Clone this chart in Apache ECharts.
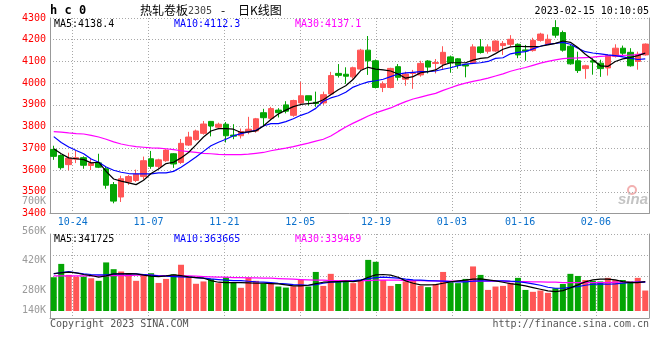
<!DOCTYPE html>
<html><head><meta charset="utf-8">
<script src="https://cdn.jsdelivr.net/npm/echarts@6/dist/echarts.min.js"></script>
<style>html,body{margin:0;padding:0;background:#fff}#c{width:660px;height:360px}</style>
</head><body><div id="c"></div>
<script>
const dates = ['10-19','10-20','10-21','10-24','10-25','10-26','10-27','10-28','10-31','11-01','11-02','11-03','11-04','11-07','11-08','11-09','11-10','11-11','11-14','11-15','11-16','11-17','11-18','11-21','11-22','11-23','11-24','11-25','11-28','11-29','11-30','12-01','12-02','12-05','12-06','12-07','12-08','12-09','12-12','12-13','12-14','12-15','12-16','12-19','12-20','12-21','12-22','12-23','12-26','12-27','12-28','12-29','12-30','01-03','01-04','01-05','01-06','01-09','01-10','01-11','01-12','01-13','01-16','01-17','01-18','01-19','01-20','01-30','01-31','02-01','02-02','02-03','02-06','02-07','02-08','02-09','02-10','02-13','02-14','02-15'];
const tickDates = ['10-24','11-07','11-21','12-05','12-19','01-03','01-16','02-06'];

const open = [3695,3667,3625,3650,3657,3621,3633,3606,3533,3476, 3545,3552,3570,3652,3617,3643,3675,3635,3715,3740, 3769,3824,3797,3811,3761,3758,3776,3780,3864,3838, 3876,3900,3852,3909,3942,3912,3909,3950,4045,4041, 4029,4065,4152,4103,3980,3980,4076,4018,4045,4038, 4102,4091,4089,4121,4112,4085,4094,4167,4147,4148, 4173,4179,4179,4153,4150,4197,4179,4256,4233,4170, 4103,4067,4103,4092,4070,4123,4161,4142,4100,4130];
const close = [3663,3611,3655,3657,3622,3632,3613,3530,3457,3560, 3570,3581,3643,3617,3647,3692,3628,3723,3752,3780, 3812,3803,3811,3758,3756,3777,3788,3836,3841,3883, 3864,3871,3920,3942,3921,3906,3947,4035,4036,4032, 4071,4152,4103,3980,3997,4068,4027,4042,4048,4091, 4074,4095,4142,4094,4082,4079,4167,4141,4167,4194, 4183,4202,4130,4148,4197,4226,4202,4221,4152,4089, 4058,4080,4097,4067,4127,4161,4138,4080,4133,4180];
const low = [3647,3602,3599,3632,3606,3600,3609,3514,3447,3453, 3532,3545,3556,3606,3606,3638,3610,3628,3711,3735, 3763,3755,3788,3727,3742,3745,3765,3772,3803,3833, 3842,3861,3845,3900,3897,3891,3900,3945,4026,3997, 4020,4061,4038,3976,3959,3976,4012,3988,3974,4030, 4045,4045,4061,4048,4067,4027,4088,4136,4136,4144, 4130,4168,4115,4103,4145,4191,4176,4209,4145,4085, 4047,4020,4039,4029,4035,4118,4123,4076,4062,4127];
const high = [3712,3672,3680,3690,3663,3655,3675,3617,3545,3574, 3577,3602,3662,3688,3652,3696,3678,3743,3776,3786, 3826,3826,3818,3821,3811,3791,3845,3840,3882,3891, 3885,3917,3924,4006,3942,3961,3961,4052,4088,4073, 4076,4158,4217,4109,4008,4071,4088,4053,4061,4103, 4106,4111,4170,4127,4115,4085,4179,4203,4179,4197, 4194,4221,4183,4176,4209,4232,4224,4290,4242,4176, 4145,4085,4115,4108,4133,4179,4173,4161,4145,4183];

const ma5 = [3698,3675,3656,3652,3648,3633,3636,3594,3559,3549, 3541,3533,3553,3584,3605,3630,3636,3656,3681,3716, 3752,3780,3791,3791,3788,3773,3776,3780,3803,3833, 3858,3876,3892,3902,3906,3909,3924,3947,3970,3988, 4018,4058,4073,4065,4061,4056,4042,4023,4030,4048, 4053,4061,4083,4094,4094,4094,4106,4114,4118,4136, 4156,4167,4170,4168,4168,4170,4176,4183,4194,4188, 4164,4133,4108,4080,4077,4100,4112,4118,4127,4138];
const ma10 = [3754,3727,3706,3690,3675,3651,3636,3614,3599,3590, 3584,3582,3582,3582,3587,3587,3594,3613,3636,3660, 3686,3712,3728,3742,3758,3768,3776,3783,3803,3814, 3814,3823,3836,3852,3864,3884,3917,3932,3942,3958, 3982,3995,4006,4011,4018,4030,4042,4047,4050,4053, 4053,4056,4064,4071,4080,4088,4091,4094,4100,4114, 4117,4135,4142,4145,4158,4170,4179,4183,4188,4179, 4161,4145,4139,4135,4130,4127,4121,4115,4109,4112];
const ma30 = [3777,3775,3771,3768,3766,3760,3752,3742,3730,3720, 3713,3708,3705,3702,3701,3698,3694,3689,3685,3681, 3677,3675,3672,3671,3671,3671,3673,3677,3681,3689, 3695,3701,3708,3716,3724,3733,3742,3757,3778,3798, 3816,3832,3849,3863,3875,3886,3901,3915,3927,3936, 3945,3953,3967,3979,3991,4000,4008,4015,4023,4033, 4043,4055,4064,4072,4082,4092,4100,4107,4113,4115, 4116,4118,4120,4123,4125,4127,4128,4129,4131,4137];

const volume = [340000,403000,351000,343000,343000,335000,323000,410000,378000,367000, 359000,323000,354000,359000,313000,332000,354000,399000,343000,309000, 320000,332000,312000,340000,316000,290000,339000,323000,310000,309000, 296000,291000,297000,327000,296000,365000,299000,356000,323000,320000, 312000,327000,422000,413000,327000,299000,308000,320000,327000,299000, 293000,308000,365000,315000,312000,332000,391000,351000,280000,296000, 299000,312000,337000,280000,271000,277000,266000,288000,308000,356000, 346000,327000,323000,320000,337000,327000,327000,321000,337000,277000];
const volMa5 = [357500,360700,363900,360700,352800,348000,340100,346500,356000,356000, 357500,356000,349600,344900,343300,346500,351200,348000,341700,338500, 335400,324300,316400,314800,314800,314800,313200,311600,311600,310100, 308500,303700,299000,299000,302100,310100,316400,318000,319600,321100, 319600,324300,340100,351200,352800,349600,340100,322700,311600,303700, 303700,305300,311600,318000,322700,325900,330600,332200,327500,322700, 316400,310100,305300,299000,291100,283200,275300,272100,276800,289500, 303700,318000,327500,330600,330600,327500,319600,314800,314800,319600];
const volMa10 = [356000,362300,367000,360700,356000,352800,351200,351200,354400,356000, 356000,356000,352800,349600,346500,344900,343300,341700,340100,338500, 335400,332200,329100,325900,324300,324300,321100,318000,316400,314800, 311600,308500,305300,303700,302100,305300,311600,316400,318000,319600, 322700,327500,333800,338500,340100,338500,335400,330600,327500,325900, 324300,322700,321100,319600,318000,318000,321100,322700,322700,322700, 322700,321100,319600,314800,308500,302100,292700,287900,287900,292700, 295800,302100,306900,308500,306900,308500,311600,314800,316400,316400];
const volMa30 = [346500,346500,346500,346500,346500,346500,346500,346500,348000,348000, 348000,349600,349600,349600,348000,348000,348000,346500,346500,344900, 343300,341700,340100,340100,338500,338500,337000,337000,335400,335400, 333800,332200,330600,329100,327500,325900,325900,324300,324300,324300, 324300,324300,324300,325900,325900,325900,325900,324300,324300,324300, 322700,322700,321100,321100,321100,321100,321100,321100,321100,321100, 321100,319600,319600,319600,318000,318000,316400,316400,314800,314800, 314800,314800,314800,314800,314800,316400,316400,316400,316400,318000];

const priceMin = 3400, priceMax = 4300, priceStep = 100;
const volTicks = [140000, 280000, 420000, 560000, 700000];
const priceMaText = ['MA5:4138.4', 'MA10:4112.3', 'MA30:4137.1'];
const volMaText = ['MA5:341725', 'MA10:363665', 'MA30:339469'];

const UP = '#ff5656', DOWN = '#04a504';
const MONO = '"DejaVu Sans Mono", monospace';
const GRIDC = '#a8a8a8', AXISC = '#999999';
const dotted = { color: GRIDC, width: 1, type: [1, 2] };
const isTick = (i, v) => tickDates.indexOf(v) >= 0;

const chart = echarts.init(document.getElementById('c'), null, { renderer: 'canvas' });
const L = 50, W = 599;
const hidden = { show: false };
chart.setOption({
  animation: false,
  backgroundColor: '#fff',
  grid: [
    { left: L, width: W, top: 18, height: 195.5 },
    { left: L, width: W, top: 234, height: 84 },
    { left: L, width: W, top: 234, height: 77 },
    { left: L, width: W, top: 201.5, height: 118 }
  ],
  xAxis: [
    { type: 'category', gridIndex: 0, data: dates, boundaryGap: true, position: 'bottom',
      axisLine: { onZero: false, lineStyle: { color: AXISC } }, axisTick: hidden, axisLabel: hidden, splitLine: hidden },
    { type: 'category', gridIndex: 0, data: dates, boundaryGap: false, position: 'bottom',
      axisLine: hidden, axisTick: hidden,
      axisLabel: { interval: isTick, color: '#0a70cc', fontFamily: MONO, fontSize: 10, margin: 4 },
      splitLine: { show: true, interval: isTick, lineStyle: dotted } },
    { type: 'category', gridIndex: 1, data: dates, boundaryGap: false, position: 'bottom',
      axisLine: { onZero: false, lineStyle: { color: AXISC } }, axisTick: hidden, axisLabel: hidden,
      splitLine: { show: true, interval: isTick, lineStyle: dotted } },
    { type: 'category', gridIndex: 2, data: dates, boundaryGap: true, show: false },
    { type: 'category', gridIndex: 3, data: dates, boundaryGap: true, show: false }
  ],
  yAxis: [
    { type: 'value', gridIndex: 0, min: priceMin, max: priceMax, interval: priceStep, position: 'left',
      axisLine: { show: true, lineStyle: { color: AXISC } }, axisTick: hidden,
      axisLabel: { color: '#ff0000', fontFamily: MONO, fontSize: 10, margin: 4, padding: [0, 0, 3, 0], formatter: v => String(v) },
      splitLine: { show: true, lineStyle: dotted } },
    { type: 'value', gridIndex: 0, min: priceMin, max: priceMax, position: 'right',
      axisLine: { show: true, lineStyle: { color: AXISC } }, axisTick: hidden, axisLabel: hidden, splitLine: hidden },
    { type: 'category', gridIndex: 1, data: ['b1', 'b2', 'b3', 'b4'], boundaryGap: true, position: 'left',
      axisLine: { show: true, onZero: false, lineStyle: { color: AXISC } }, axisTick: hidden, axisLabel: hidden,
      splitLine: { show: true, interval: 0, lineStyle: dotted } },
    { type: 'category', gridIndex: 1, data: ['b1', 'b2', 'b3', 'b4'], position: 'right',
      axisLine: { show: true, onZero: false, lineStyle: { color: AXISC } }, axisTick: hidden, axisLabel: hidden, splitLine: hidden },
    { type: 'value', gridIndex: 2, min: 180300, max: 544400, show: false },
    { type: 'value', gridIndex: 3, min: volTicks[0], max: volTicks[volTicks.length - 1], interval: volTicks[1] - volTicks[0],
      axisLine: hidden, axisTick: hidden, splitLine: hidden,
      axisLabel: { color: '#9a9a9a', fontFamily: MONO, fontSize: 10, margin: 4,
        formatter: v => v === volTicks[0] ? '{lo|' + (v / 1000) + 'K}' : (v / 1000) + 'K',
        rich: { lo: { padding: [0, 0, 19, 0], color: '#9a9a9a', fontFamily: MONO, fontSize: 10 } } } }
  ],
  series: [
    { type: 'candlestick', xAxisIndex: 0, yAxisIndex: 0, barWidth: 6,
      data: dates.map((d, i) => [open[i], close[i], low[i], high[i]]),
      itemStyle: { color: UP, color0: DOWN, borderColor: UP, borderColor0: DOWN, borderWidth: 1 } },
    { type: 'line', xAxisIndex: 0, yAxisIndex: 0, data: ma30, symbol: 'none', lineStyle: { color: '#ff00ff', width: 1.2 }, z: 3 },
    { type: 'line', xAxisIndex: 0, yAxisIndex: 0, data: ma10, symbol: 'none', lineStyle: { color: '#0000ff', width: 1.2 }, z: 3 },
    { type: 'line', xAxisIndex: 0, yAxisIndex: 0, data: ma5, symbol: 'none', lineStyle: { color: '#000000', width: 1.2 }, z: 3 },
    { type: 'bar', xAxisIndex: 3, yAxisIndex: 4, barWidth: 6, clip: true,
      data: volume.map((v, i) => ({ value: v, itemStyle: { color: close[i] >= open[i] ? UP : DOWN } })) },
    { type: 'line', xAxisIndex: 3, yAxisIndex: 4, data: volMa30, symbol: 'none', lineStyle: { color: '#ff00ff', width: 1.2 }, z: 3 },
    { type: 'line', xAxisIndex: 3, yAxisIndex: 4, data: volMa10, symbol: 'none', lineStyle: { color: '#0000ff', width: 1.2 }, z: 3 },
    { type: 'line', xAxisIndex: 3, yAxisIndex: 4, data: volMa5, symbol: 'none', lineStyle: { color: '#000000', width: 1.2 }, z: 3 }
  ],
  graphic: [
    { type: 'text', x: 50, y: 11, style: { text: 'h c 0', font: 'bold 12px ' + MONO, fill: '#000', textVerticalAlign: 'middle' } },
    { type: 'text', x: 140, y: 10, style: { text: '热轧卷板', font: '12px "Noto Sans CJK SC"', fill: '#000', textVerticalAlign: 'middle' } },
    { type: 'text', x: 188, y: 11, style: { text: '2305', font: '10px ' + MONO, fill: '#444', textVerticalAlign: 'middle' } },
    { type: 'text', x: 221, y: 10, style: { text: '-', font: '12px "Noto Sans CJK SC"', fill: '#000', textVerticalAlign: 'middle' } },
    { type: 'text', x: 238, y: 10, style: { text: '日K线图', font: '12px "Noto Sans CJK SC"', fill: '#000', textVerticalAlign: 'middle' } },
    { type: 'text', x: 649, y: 11.5, style: { text: '2023-02-15 10:10:05', font: '10px ' + MONO, fill: '#000', textAlign: 'right', textVerticalAlign: 'middle' } },
    { type: 'text', x: 54, y: 24, style: { text: priceMaText[0], font: '10px ' + MONO, fill: '#000', textVerticalAlign: 'middle' } },
    { type: 'text', x: 174, y: 24, style: { text: priceMaText[1], font: '10px ' + MONO, fill: '#0000ff', textVerticalAlign: 'middle' } },
    { type: 'text', x: 295, y: 24, style: { text: priceMaText[2], font: '10px ' + MONO, fill: '#ff00ff', textVerticalAlign: 'middle' } },
    { type: 'text', x: 54, y: 239, style: { text: volMaText[0], font: '10px ' + MONO, fill: '#000', textVerticalAlign: 'middle' } },
    { type: 'text', x: 174, y: 239, style: { text: volMaText[1], font: '10px ' + MONO, fill: '#0000ff', textVerticalAlign: 'middle' } },
    { type: 'text', x: 295, y: 239, style: { text: volMaText[2], font: '10px ' + MONO, fill: '#ff00ff', textVerticalAlign: 'middle' } },
    { type: 'text', x: 50, y: 324, style: { text: 'Copyright 2023 SINA.COM', font: '10px ' + MONO, fill: '#555', textVerticalAlign: 'middle' } },
    { type: 'text', x: 649, y: 324, style: { text: 'http://finance.sina.com.cn', font: '10px ' + MONO, fill: '#555', textAlign: 'right', textVerticalAlign: 'middle' } },
    { type: 'circle', shape: { cx: 632, cy: 190, r: 4 }, style: { fill: 'none', stroke: '#f2b0b0', lineWidth: 2 } },
    { type: 'text', x: 648, y: 200, style: { text: 'sina', font: 'italic bold 15px "Liberation Sans"', fill: '#c4c4c4', textAlign: 'right', textVerticalAlign: 'middle' } }
  ]
});
</script></body></html>
